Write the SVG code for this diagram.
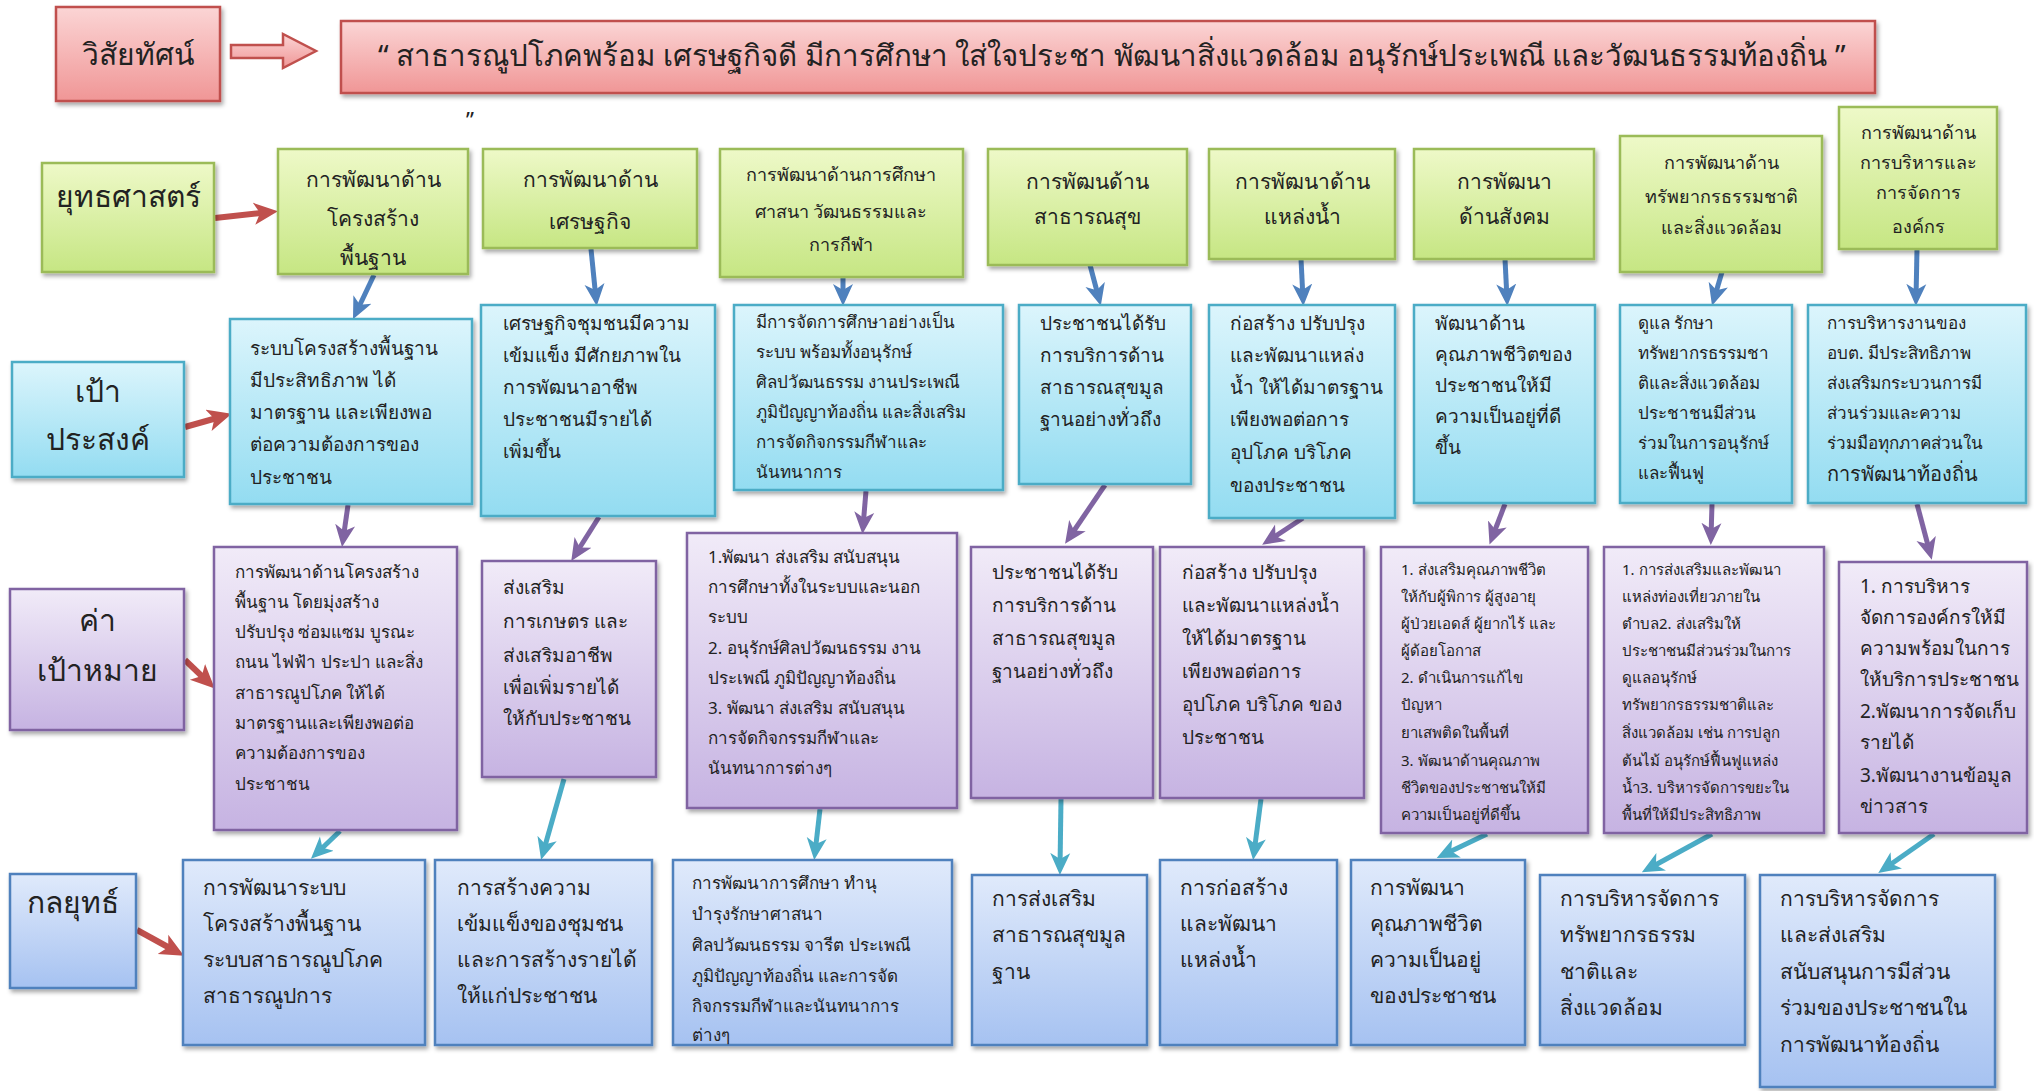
<svg xmlns="http://www.w3.org/2000/svg" width="2034" height="1091" viewBox="0 0 2034 1091">
<defs>
<linearGradient id="gR" x1="0" y1="0" x2="0" y2="1"><stop offset="0" stop-color="#fbd5d5"/><stop offset="1" stop-color="#f09696"/></linearGradient>
<linearGradient id="gG" x1="0" y1="0" x2="0" y2="1"><stop offset="0" stop-color="#eef9c8"/><stop offset="1" stop-color="#c6e683"/></linearGradient>
<linearGradient id="gC" x1="0" y1="0" x2="0" y2="1"><stop offset="0" stop-color="#dcf5fc"/><stop offset="1" stop-color="#93dcf1"/></linearGradient>
<linearGradient id="gP" x1="0" y1="0" x2="0" y2="1"><stop offset="0" stop-color="#f1ebf8"/><stop offset="1" stop-color="#c6b3e2"/></linearGradient>
<linearGradient id="gB" x1="0" y1="0" x2="0" y2="1"><stop offset="0" stop-color="#e0eafb"/><stop offset="1" stop-color="#a6c2f1"/></linearGradient>
<filter id="sh" x="-10%" y="-10%" width="125%" height="125%"><feDropShadow dx="2" dy="3" stdDeviation="2" flood-color="#000" flood-opacity="0.35"/></filter>
<marker id="mR" markerUnits="userSpaceOnUse" markerWidth="24" markerHeight="24" viewBox="0 0 24 24" refX="16" refY="12" orient="auto"><path d="M0,1 L24,12 L0,23 L6,12 z" fill="#c0504d"/></marker>
<marker id="mB" markerUnits="userSpaceOnUse" markerWidth="22" markerHeight="22" viewBox="0 0 22 22" refX="15" refY="11" orient="auto"><path d="M0,1 L22,11 L0,21 L6,11 z" fill="#4f81bd"/></marker>
<marker id="mP" markerUnits="userSpaceOnUse" markerWidth="22" markerHeight="22" viewBox="0 0 22 22" refX="15" refY="11" orient="auto"><path d="M0,1 L22,11 L0,21 L6,11 z" fill="#8064a2"/></marker>
<marker id="mC" markerUnits="userSpaceOnUse" markerWidth="22" markerHeight="22" viewBox="0 0 22 22" refX="15" refY="11" orient="auto"><path d="M0,1 L22,11 L0,21 L6,11 z" fill="#4bacc6"/></marker>
</defs>
<style>
text{font-family:"Noto Sans","DejaVu Sans",sans-serif;fill:#222}
.r{fill:url(#gR);stroke:#c0504d;stroke-width:2.5;filter:url(#sh)}
.g{fill:url(#gG);stroke:#9bbb59;stroke-width:2.5;filter:url(#sh)}
.c{fill:url(#gC);stroke:#4bacc6;stroke-width:2.5;filter:url(#sh)}
.p{fill:url(#gP);stroke:#8064a2;stroke-width:2.5;filter:url(#sh)}
.b{fill:url(#gB);stroke:#4f81bd;stroke-width:2.5;filter:url(#sh)}
.lab{font-size:30px;text-anchor:middle}
.sg{font-size:21px;text-anchor:middle}
.ss{font-size:18px;text-anchor:middle}
.t19{font-size:19px}
.t17{font-size:17px}
.t15{font-size:15px}
.t21{font-size:21px}
.aR{stroke:#c0504d;stroke-width:6;fill:none;marker-end:url(#mR)}
.aB{stroke:#4f81bd;stroke-width:5;fill:none;marker-end:url(#mB)}
.aP{stroke:#8064a2;stroke-width:5;fill:none;marker-end:url(#mP)}
.aC{stroke:#4bacc6;stroke-width:5;fill:none;marker-end:url(#mC)}
</style>

<g id="connectors">
<polygon points="231,45 283,45 283,34 316,51 283,68 283,58 231,58" fill="url(#gR)" stroke="#c0504d" stroke-width="2.5"/>
<line class="aR" x1="215" y1="218" x2="270" y2="212"/>
<line class="aR" x1="185" y1="427" x2="224" y2="416"/>
<line class="aR" x1="185" y1="660" x2="209" y2="683"/>
<line class="aR" x1="137" y1="930" x2="177" y2="952"/>
<line class="aB" x1="374" y1="275" x2="356" y2="313"/>
<line class="aB" x1="591" y1="249" x2="596" y2="299"/>
<line class="aB" x1="843" y1="278" x2="843" y2="299"/>
<line class="aB" x1="1090" y1="265" x2="1099" y2="299"/>
<line class="aB" x1="1301" y1="259" x2="1303" y2="299"/>
<line class="aB" x1="1505" y1="259" x2="1507" y2="299"/>
<line class="aB" x1="1722" y1="272" x2="1714" y2="299"/>
<line class="aB" x1="1917" y1="249" x2="1916" y2="299"/>
<line class="aP" x1="348" y1="505" x2="343" y2="540"/>
<line class="aP" x1="599" y1="517" x2="575" y2="555"/>
<line class="aP" x1="866" y1="491" x2="863" y2="527"/>
<line class="aP" x1="1105" y1="485" x2="1069" y2="538"/>
<line class="aP" x1="1303" y1="518" x2="1268" y2="541"/>
<line class="aP" x1="1505" y1="504" x2="1492" y2="538"/>
<line class="aP" x1="1712" y1="504" x2="1711" y2="538"/>
<line class="aP" x1="1917" y1="504" x2="1930" y2="553"/>
<line class="aC" x1="340" y1="831" x2="316" y2="854"/>
<line class="aC" x1="564" y1="779" x2="543" y2="853"/>
<line class="aC" x1="820" y1="809" x2="815" y2="853"/>
<line class="aC" x1="1061" y1="799" x2="1060" y2="868"/>
<line class="aC" x1="1261" y1="799" x2="1254" y2="853"/>
<line class="aC" x1="1487" y1="834" x2="1443" y2="855"/>
<line class="aC" x1="1712" y1="834" x2="1648" y2="869"/>
<line class="aC" x1="1934" y1="834" x2="1884" y2="869"/>
</g>

<g id="vision-label"><rect class="r" x="56" y="7" width="164" height="94"/><text class="lab" x="138" y="65">วิสัยทัศน์</text></g>
<g id="vision"><rect class="r" x="341" y="21" width="1534" height="72"/><text x="378" y="66" font-size="29.5">“ สาธารณูปโภคพร้อม  เศรษฐกิจดี  มีการศึกษา  ใส่ใจประชา   พัฒนาสิ่งแวดล้อม อนุรักษ์ประเพณี  และวัฒนธรรมท้องถิ่น ”</text></g>
<g id="stray-quote"><text x="466" y="128" font-size="22">”</text></g>

<g id="strategy-label"><rect class="g" x="42" y="163" width="172" height="109"/><text class="lab" x="128" y="207">ยุทธศาสตร์</text></g>
<g id="s1"><rect class="g" x="278" y="149" width="190" height="125"/><text class="sg"><tspan x="373" y="187">การพัฒนาด้าน</tspan><tspan x="373" y="226">โครงสร้าง</tspan><tspan x="373" y="265">พื้นฐาน</tspan></text></g>
<g id="s2"><rect class="g" x="483" y="149" width="214" height="99"/><text class="sg"><tspan x="590" y="187">การพัฒนาด้าน</tspan><tspan x="590" y="229">เศรษฐกิจ</tspan></text></g>
<g id="s3"><rect class="g" x="720" y="149" width="243" height="128"/><text class="ss"><tspan x="841" y="181">การพัฒนาด้านการศึกษา</tspan><tspan x="841" y="218">ศาสนา วัฒนธรรมและ</tspan><tspan x="841" y="251">การกีฬา</tspan></text></g>
<g id="s4"><rect class="g" x="988" y="149" width="199" height="116"/><text class="sg"><tspan x="1087" y="189">การพัฒนด้าน</tspan><tspan x="1087" y="224">สาธารณสุข</tspan></text></g>
<g id="s5"><rect class="g" x="1209" y="149" width="186" height="110"/><text class="sg"><tspan x="1302" y="189">การพัฒนาด้าน</tspan><tspan x="1302" y="224">แหล่งน้ำ</tspan></text></g>
<g id="s6"><rect class="g" x="1414" y="149" width="180" height="110"/><text class="sg"><tspan x="1504" y="189">การพัฒนา</tspan><tspan x="1504" y="224">ด้านสังคม</tspan></text></g>
<g id="s7"><rect class="g" x="1620" y="136" width="202" height="136"/><text class="ss"><tspan x="1721" y="169">การพัฒนาด้าน</tspan><tspan x="1721" y="203">ทรัพยากรธรรมชาติ</tspan><tspan x="1721" y="234">และสิ่งแวดล้อม</tspan></text></g>
<g id="s8"><rect class="g" x="1839" y="107" width="158" height="142"/><text class="ss"><tspan x="1918" y="139">การพัฒนาด้าน</tspan><tspan x="1918" y="169">การบริหารและ</tspan><tspan x="1918" y="199">การจัดการ</tspan><tspan x="1918" y="233">องค์กร</tspan></text></g>

<g id="goal-label"><rect class="c" x="12" y="362" width="172" height="115"/><text class="lab"><tspan x="98" y="402">เป้า</tspan><tspan x="98" y="450">ประสงค์</tspan></text></g>
<g id="g1"><rect class="c" x="230" y="319" width="242" height="185"/><text class="t19"><tspan x="250" y="355">ระบบโครงสร้างพื้นฐาน</tspan><tspan x="250" y="387">มีประสิทธิภาพ  ได้</tspan><tspan x="250" y="419">มาตรฐาน และเพียงพอ</tspan><tspan x="250" y="451">ต่อความต้องการของ</tspan><tspan x="250" y="484">ประชาชน</tspan></text></g>
<g id="g2"><rect class="c" x="481" y="305" width="234" height="211"/><text class="t19"><tspan x="503" y="330">เศรษฐกิจชุมชนมีความ</tspan><tspan x="503" y="362">เข้มแข็ง  มีศักยภาพใน</tspan><tspan x="503" y="394">การพัฒนาอาชีพ</tspan><tspan x="503" y="426">ประชาชนมีรายได้</tspan><tspan x="503" y="458">เพิ่มขึ้น</tspan></text></g>
<g id="g3"><rect class="c" x="734" y="305" width="269" height="185"/><text class="t17"><tspan x="756" y="328">มีการจัดการศึกษาอย่างเป็น</tspan><tspan x="756" y="358">ระบบ  พร้อมทั้งอนุรักษ์</tspan><tspan x="756" y="388">ศิลปวัฒนธรรม  งานประเพณี</tspan><tspan x="756" y="418">ภูมิปัญญาท้องถิ่น  และสิ่งเสริม</tspan><tspan x="756" y="448">การจัดกิจกรรมกีฬาและ</tspan><tspan x="756" y="478">นันทนาการ</tspan></text></g>
<g id="g4"><rect class="c" x="1019" y="305" width="172" height="179"/><text class="t19"><tspan x="1040" y="330">ประชาชนได้รับ</tspan><tspan x="1040" y="362">การบริการด้าน</tspan><tspan x="1040" y="394">สาธารณสุขมูล</tspan><tspan x="1040" y="426">ฐานอย่างทั่วถึง</tspan></text></g>
<g id="g5"><rect class="c" x="1209" y="305" width="186" height="213"/><text class="t19"><tspan x="1230" y="330">ก่อสร้าง  ปรับปรุง</tspan><tspan x="1230" y="362">และพัฒนาแหล่ง</tspan><tspan x="1230" y="394">น้ำ ให้ได้มาตรฐาน</tspan><tspan x="1230" y="426">เพียงพอต่อการ</tspan><tspan x="1230" y="459">อุปโภค  บริโภค</tspan><tspan x="1230" y="492">ของประชาชน</tspan></text></g>
<g id="g6"><rect class="c" x="1414" y="305" width="181" height="198"/><text class="t19"><tspan x="1435" y="330">พัฒนาด้าน</tspan><tspan x="1435" y="361">คุณภาพชีวิตของ</tspan><tspan x="1435" y="392">ประชาชนให้มี</tspan><tspan x="1435" y="423">ความเป็นอยู่ที่ดี</tspan><tspan x="1435" y="454">ขึ้น</tspan></text></g>
<g id="g7"><rect class="c" x="1620" y="305" width="172" height="198"/><text class="t17"><tspan x="1638" y="329">ดูแล  รักษา</tspan><tspan x="1638" y="359">ทรัพยากรธรรมชา</tspan><tspan x="1638" y="389">ติและสิ่งแวดล้อม</tspan><tspan x="1638" y="419">ประชาชนมีส่วน</tspan><tspan x="1638" y="449">ร่วมในการอนุรักษ์</tspan><tspan x="1638" y="479">และฟื้นฟู</tspan></text></g>
<g id="g8"><rect class="c" x="1808" y="305" width="218" height="198"/><text class="t17"><tspan x="1827" y="329">การบริหารงานของ</tspan><tspan x="1827" y="359">อบต. มีประสิทธิภาพ</tspan><tspan x="1827" y="389">ส่งเสริมกระบวนการมี</tspan><tspan x="1827" y="419">ส่วนร่วมและความ</tspan><tspan x="1827" y="449">ร่วมมือทุกภาคส่วนใน</tspan><tspan x="1827" y="481" font-size="20">การพัฒนาท้องถิ่น</tspan></text></g>

<g id="target-label"><rect class="p" x="10" y="589" width="174" height="141"/><text class="lab"><tspan x="97" y="631">ค่า</tspan><tspan x="97" y="681">เป้าหมาย</tspan></text></g>
<g id="t1"><rect class="p" x="214" y="547" width="243" height="283"/><text class="t17"><tspan x="235" y="578">การพัฒนาด้านโครงสร้าง</tspan><tspan x="235" y="608">พื้นฐาน  โดยมุ่งสร้าง</tspan><tspan x="235" y="638">ปรับปรุง ซ่อมแซม บูรณะ</tspan><tspan x="235" y="668">ถนน ไฟฟ้า ประปา และสิ่ง</tspan><tspan x="235" y="699">สาธารณูปโภค ให้ได้</tspan><tspan x="235" y="729">มาตรฐานและเพียงพอต่อ</tspan><tspan x="235" y="759">ความต้องการของ</tspan><tspan x="235" y="790">ประชาชน</tspan></text></g>
<g id="t2"><rect class="p" x="482" y="561" width="174" height="216"/><text class="t19"><tspan x="503" y="594">ส่งเสริม</tspan><tspan x="503" y="628">การเกษตร  และ</tspan><tspan x="503" y="662">ส่งเสริมอาชีพ</tspan><tspan x="503" y="694">เพื่อเพิ่มรายได้</tspan><tspan x="503" y="725">ให้กับประชาชน</tspan></text></g>
<g id="t3"><rect class="p" x="687" y="533" width="270" height="275"/><text class="t17"><tspan x="708" y="563">1.พัฒนา ส่งเสริม สนับสนุน</tspan><tspan x="708" y="593">การศึกษาทั้งในระบบและนอก</tspan><tspan x="708" y="623">ระบบ</tspan><tspan x="708" y="654">2. อนุรักษ์ศิลปวัฒนธรรม  งาน</tspan><tspan x="708" y="684">ประเพณี  ภูมิปัญญาท้องถิ่น</tspan><tspan x="708" y="714">3. พัฒนา ส่งเสริม สนับสนุน</tspan><tspan x="708" y="744">การจัดกิจกรรมกีฬาและ</tspan><tspan x="708" y="774">นันทนาการต่างๆ</tspan></text></g>
<g id="t4"><rect class="p" x="971" y="547" width="182" height="251"/><text class="t19"><tspan x="992" y="579">ประชาชนได้รับ</tspan><tspan x="992" y="612">การบริการด้าน</tspan><tspan x="992" y="645">สาธารณสุขมูล</tspan><tspan x="992" y="678">ฐานอย่างทั่วถึง</tspan></text></g>
<g id="t5"><rect class="p" x="1160" y="547" width="204" height="251"/><text class="t19"><tspan x="1182" y="579">ก่อสร้าง  ปรับปรุง</tspan><tspan x="1182" y="612">และพัฒนาแหล่งน้ำ</tspan><tspan x="1182" y="645">ให้ได้มาตรฐาน</tspan><tspan x="1182" y="678">เพียงพอต่อการ</tspan><tspan x="1182" y="711">อุปโภค  บริโภค  ของ</tspan><tspan x="1182" y="744">ประชาชน</tspan></text></g>
<g id="t6"><rect class="p" x="1381" y="547" width="207" height="286"/><text class="t15"><tspan x="1401" y="575">1. ส่งเสริมคุณภาพชีวิต</tspan><tspan x="1401" y="602">ให้กับผู้พิการ  ผู้สูงอายุ</tspan><tspan x="1401" y="629">ผู้ป่วยเอดส์ ผู้ยากไร้ และ</tspan><tspan x="1401" y="656">ผู้ด้อยโอกาส</tspan><tspan x="1401" y="683">2. ดำเนินการแก้ไข</tspan><tspan x="1401" y="710">ปัญหา</tspan><tspan x="1401" y="738">ยาเสพติดในพื้นที่</tspan><tspan x="1401" y="766">3. พัฒนาด้านคุณภาพ</tspan><tspan x="1401" y="793">ชีวิตของประชาชนให้มี</tspan><tspan x="1401" y="820">ความเป็นอยู่ที่ดีขึ้น</tspan></text></g>
<g id="t7"><rect class="p" x="1604" y="547" width="220" height="286"/><text class="t15"><tspan x="1622" y="575">1. การส่งเสริมและพัฒนา</tspan><tspan x="1622" y="602">แหล่งท่องเที่ยวภายใน</tspan><tspan x="1622" y="629">ตำบล2. ส่งเสริมให้</tspan><tspan x="1622" y="656">ประชาชนมีส่วนร่วมในการ</tspan><tspan x="1622" y="683">ดูแลอนุรักษ์</tspan><tspan x="1622" y="710">ทรัพยากรธรรมชาติและ</tspan><tspan x="1622" y="738">สิ่งแวดล้อม เช่น การปลูก</tspan><tspan x="1622" y="766">ต้นไม้  อนุรักษ์ฟื้นฟูแหล่ง</tspan><tspan x="1622" y="793">น้ำ3. บริหารจัดการขยะใน</tspan><tspan x="1622" y="820">พื้นที่ให้มีประสิทธิภาพ</tspan></text></g>
<g id="t8"><rect class="p" x="1839" y="562" width="188" height="271"/><text class="t19"><tspan x="1860" y="593">1. การบริหาร</tspan><tspan x="1860" y="624">จัดการองค์กรให้มี</tspan><tspan x="1860" y="655">ความพร้อมในการ</tspan><tspan x="1860" y="686">ให้บริการประชาชน</tspan><tspan x="1860" y="718">2.พัฒนาการจัดเก็บ</tspan><tspan x="1860" y="749">รายได้</tspan><tspan x="1860" y="782">3.พัฒนางานข้อมูล</tspan><tspan x="1860" y="813">ข่าวสาร</tspan></text></g>

<g id="tactic-label"><rect class="b" x="10" y="874" width="126" height="114"/><text class="lab" x="73" y="913">กลยุทธ์</text></g>
<g id="k1"><rect class="b" x="183" y="860" width="242" height="185"/><text class="t21"><tspan x="203" y="895">การพัฒนาระบบ</tspan><tspan x="203" y="931">โครงสร้างพื้นฐาน</tspan><tspan x="203" y="967">ระบบสาธารณูปโภค</tspan><tspan x="203" y="1003">สาธารณูปการ</tspan></text></g>
<g id="k2"><rect class="b" x="435" y="860" width="217" height="185"/><text class="t21"><tspan x="457" y="895">การสร้างความ</tspan><tspan x="457" y="931">เข้มแข็งของชุมชน</tspan><tspan x="457" y="967">และการสร้างรายได้</tspan><tspan x="457" y="1003">ให้แก่ประชาชน</tspan></text></g>
<g id="k3"><rect class="b" x="673" y="860" width="279" height="185"/><text class="t17"><tspan x="692" y="889">การพัฒนาการศึกษา ทำนุ</tspan><tspan x="692" y="920">บำรุงรักษาศาสนา</tspan><tspan x="692" y="951">ศิลปวัฒนธรรม จารีต ประเพณี</tspan><tspan x="692" y="982">ภูมิปัญญาท้องถิ่น  และการจัด</tspan><tspan x="692" y="1012">กิจกรรมกีฬาและนันทนาการ</tspan><tspan x="692" y="1041">ต่างๆ</tspan></text></g>
<g id="k4"><rect class="b" x="972" y="875" width="175" height="170"/><text class="t21"><tspan x="992" y="906">การส่งเสริม</tspan><tspan x="992" y="942">สาธารณสุขมูล</tspan><tspan x="992" y="979">ฐาน</tspan></text></g>
<g id="k5"><rect class="b" x="1160" y="860" width="177" height="185"/><text class="t21"><tspan x="1180" y="895">การก่อสร้าง</tspan><tspan x="1180" y="931">และพัฒนา</tspan><tspan x="1180" y="967">แหล่งน้ำ</tspan></text></g>
<g id="k6"><rect class="b" x="1351" y="860" width="174" height="185"/><text class="t21"><tspan x="1370" y="895">การพัฒนา</tspan><tspan x="1370" y="931">คุณภาพชีวิต</tspan><tspan x="1370" y="967">ความเป็นอยู่</tspan><tspan x="1370" y="1003">ของประชาชน</tspan></text></g>
<g id="k7"><rect class="b" x="1540" y="875" width="205" height="170"/><text class="t21"><tspan x="1560" y="906">การบริหารจัดการ</tspan><tspan x="1560" y="942">ทรัพยากรธรรม</tspan><tspan x="1560" y="979">ชาติและ</tspan><tspan x="1560" y="1015">สิ่งแวดล้อม</tspan></text></g>
<g id="k8"><rect class="b" x="1760" y="875" width="235" height="212"/><text class="t21"><tspan x="1780" y="906">การบริหารจัดการ</tspan><tspan x="1780" y="942">และส่งเสริม</tspan><tspan x="1780" y="979">สนับสนุนการมีส่วน</tspan><tspan x="1780" y="1015">ร่วมของประชาชนใน</tspan><tspan x="1780" y="1052">การพัฒนาท้องถิ่น</tspan></text></g>
</svg>
